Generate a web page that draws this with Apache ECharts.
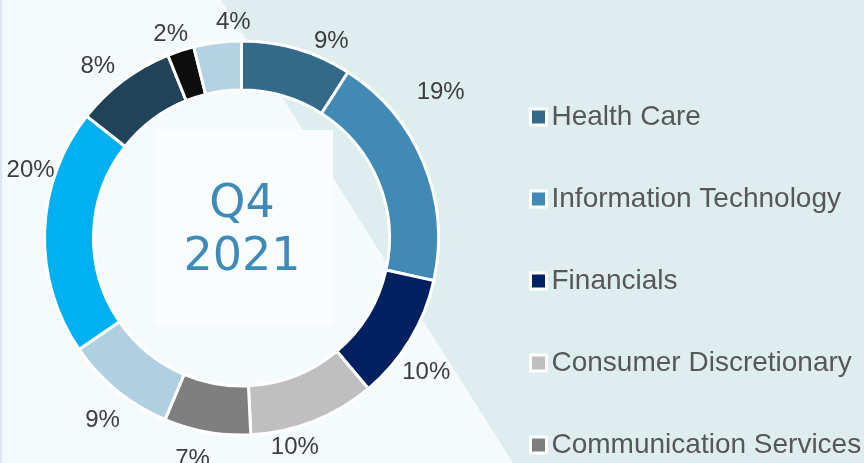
<!DOCTYPE html>
<html>
<head>
<meta charset="utf-8">
<script src="https://cdn.jsdelivr.net/npm/echarts@6/dist/echarts.min.js"></script>
<style>html,body{margin:0;padding:0;background:#f5fafc;}#c{width:864px;height:463px;}</style>
</head>
<body>
<div id="c"></div>
<script>
// ---- data ----
const sectors = ["Health Care", "Information Technology", "Financials", "Consumer Discretionary", "Communication Services",
                 "Industrials", "Consumer Staples", "Energy", "Utilities", "Materials"];
const weights = [9.1, 19.4, 10.4, 10.4, 7.1, 9.1, 20.2, 8.3, 2.2, 3.9];
const legendShown = ["Health Care", "Information Technology", "Financials", "Consumer Discretionary", "Communication Services"];
const centerLines = ["Q4", "2021"];

// ---- styling ----
const colors = ['#336a8a', '#418ab5', '#00205f', '#bfbfbf', '#7f7f7f', '#b0d0e2', '#00b0f0', '#21435a', '#0d0d0d', '#b4d2e3'];
const labelNudge = [[27, 17], [-7, -61], [-6, 19], [-28, 2], [-10, 2], [2, 10], [12, -60], [-10, 7], [-2, 8], [19, 6]];

const chart = echarts.init(document.getElementById('c'), null, {renderer: 'canvas'});
const mainData = sectors.map((n, i) => ({name: n, value: weights[i], itemStyle: {color: colors[i]}}));
const labelData = sectors.map((n, i) => ({name: n, value: weights[i], label: {offset: labelNudge[i]}}));

chart.setOption({
  backgroundColor: '#f5fafc',
  animation: false,
  graphic: [
    {type: 'polygon', z: -10, silent: true, shape: {points: [[221, 0], [864, 0], [864, 463], [513, 463]]}, style: {fill: '#deeeef'}},
    {type: 'rect', z: -8, silent: true, shape: {x: 155, y: 130, width: 178, height: 195}, style: {fill: '#fafdfe'}},
    {type: 'rect', z: -8, silent: true, shape: {x: 0, y: 0, width: 2, height: 463}, style: {fill: '#dde6ee'}},
    {type: 'text', z: 10, silent: true, x: 242, y: 232,
      style: {text: centerLines.join('\n'), fill: '#3f8ab7', font: '46px "DejaVu Sans"', lineHeight: 53,
              align: 'center', verticalAlign: 'middle'}}
  ],
  legend: {
    data: legendShown,
    orient: 'vertical',
    left: 529, top: 102, height: 380, padding: 0,
    icon: 'rect', itemWidth: 16, itemHeight: 16, itemGap: 52,
    itemStyle: {borderColor: '#ffffff', borderWidth: 3},
    textStyle: {fontSize: 28, color: '#575757', fontFamily: 'Liberation Sans', lineHeight: 30, padding: [0, 0, 0, 0]},
    selectedMode: false
  },
  series: [
    {
      type: 'pie', name: 'main',
      center: [241.5, 238], radius: [148, 197],
      startAngle: 90, clockwise: true,
      avoidLabelOverlap: false,
      itemStyle: {borderColor: '#ffffff', borderWidth: 3},
      label: {show: false}, labelLine: {show: false},
      emphasis: {disabled: true},
      data: mainData
    },
    {
      type: 'pie', name: 'labels',
      center: [241.5, 238], radius: [205, 235],
      startAngle: 90, clockwise: true, silent: true,
      avoidLabelOverlap: false,
      itemStyle: {color: 'rgba(0,0,0,0)', borderWidth: 0},
      label: {show: true, position: 'inside', fontSize: 24, color: '#3d3d3d', fontFamily: 'Liberation Sans',
              formatter: p => Math.round(p.percent) + '%'},
      labelLine: {show: false},
      emphasis: {disabled: true},
      data: labelData
    }
  ]
});
</script>
</body>
</html>
